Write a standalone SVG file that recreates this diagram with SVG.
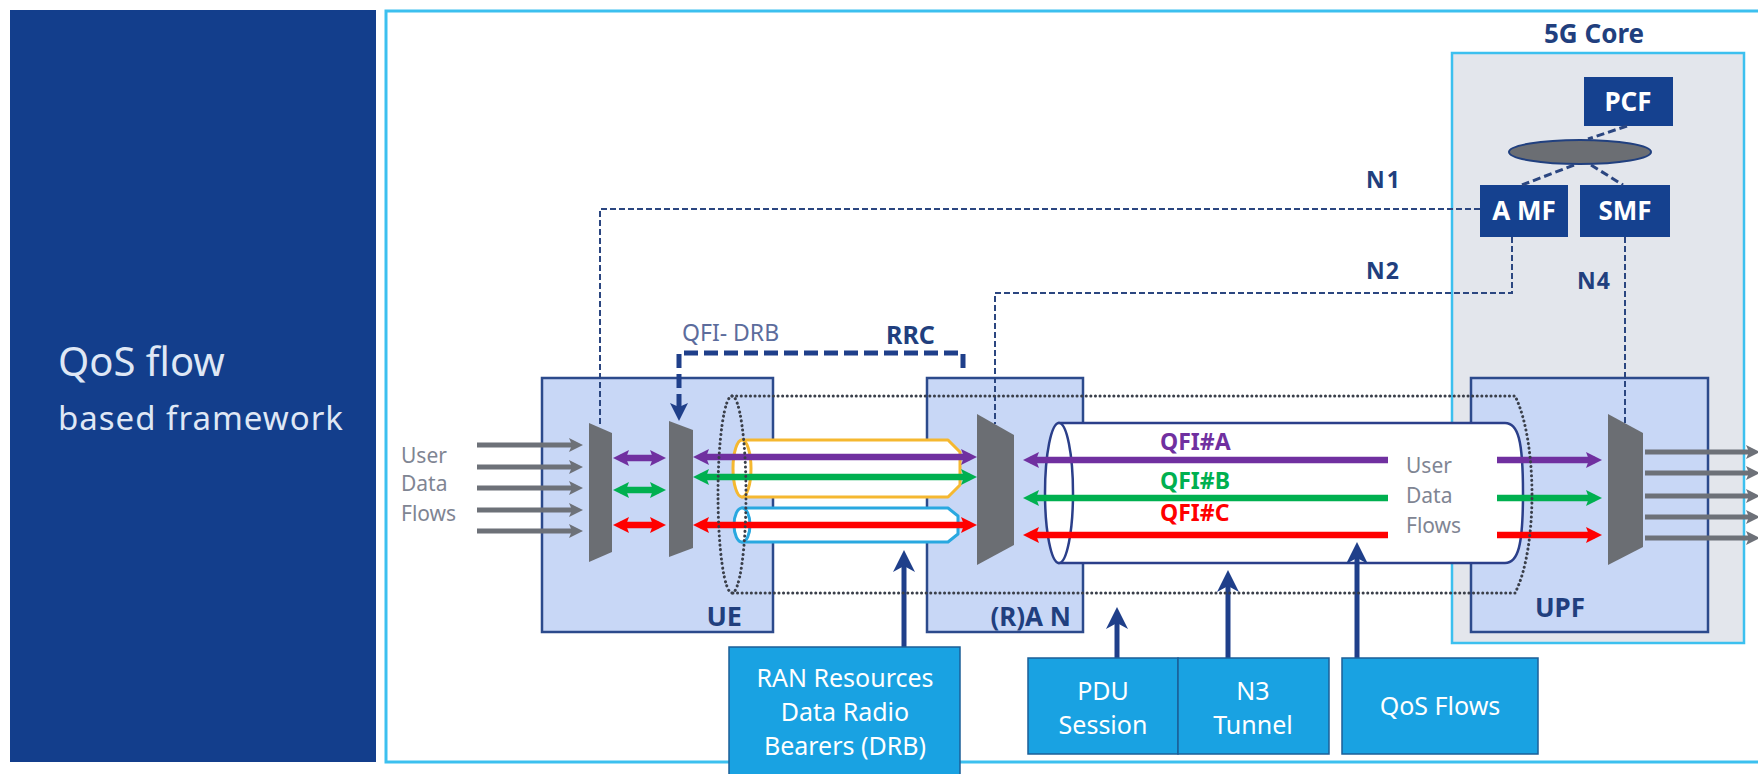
<svg xmlns="http://www.w3.org/2000/svg" width="1758" height="774" viewBox="0 0 1758 774">
<style>
  .t{font-family:"Noto Sans","Open Sans","Liberation Sans",sans-serif}
  .nodebox{fill:#c8d7f6;stroke:#2c4a8c;stroke-width:2.5}
  .cls{fill:#6b6e73}
  .nf{fill:#15418f}
  .nft{font-family:"Noto Sans","Liberation Sans",sans-serif;font-weight:bold;font-size:26px;fill:#ffffff;text-anchor:middle}
  .lbl{font-family:"Noto Sans","Liberation Sans",sans-serif;font-weight:bold;fill:#213f7e}
  .sig{fill:none;stroke:#2b4680;stroke-width:2;stroke-dasharray:6 3}
  .bb{fill:#19a2e2;stroke:#1b5f98;stroke-width:1.5}
  .bbt{font-family:"Noto Sans","Liberation Sans",sans-serif;font-size:25px;fill:#ffffff;text-anchor:middle}
  .gray{stroke:#6d7178;stroke-width:5;fill:none}
  .pur{stroke:#7030a0;stroke-width:6.5;fill:none}
  .grn{stroke:#00b050;stroke-width:6.5;fill:none}
  .red{stroke:#ff0000;stroke-width:6.5;fill:none}
  .up{stroke:#1f3f8a;stroke-width:5;fill:none}
  .gtxt{font-family:"Noto Sans","Liberation Sans",sans-serif;font-size:21px;fill:#7f8593}
</style>
<defs>
  <marker id="mp" viewBox="0 0 16 16" refX="9" refY="8" markerWidth="16" markerHeight="16" markerUnits="userSpaceOnUse" orient="auto-start-reverse"><path d="M0,0 L16,8 L0,16 L3,8z" fill="#7030a0"/></marker>
  <marker id="mg" viewBox="0 0 16 16" refX="9" refY="8" markerWidth="16" markerHeight="16" markerUnits="userSpaceOnUse" orient="auto-start-reverse"><path d="M0,0 L16,8 L0,16 L3,8z" fill="#00b050"/></marker>
  <marker id="mr" viewBox="0 0 16 16" refX="9" refY="8" markerWidth="16" markerHeight="16" markerUnits="userSpaceOnUse" orient="auto-start-reverse"><path d="M0,0 L16,8 L0,16 L3,8z" fill="#ff0000"/></marker>
  <marker id="mgy" viewBox="0 0 14 14" refX="8" refY="7" markerWidth="14" markerHeight="14" markerUnits="userSpaceOnUse" orient="auto"><path d="M0,0 L14,7 L0,14 L3,7z" fill="#6d7178"/></marker>
  <marker id="mb" viewBox="0 0 22 22" refX="12" refY="11" markerWidth="22" markerHeight="22" markerUnits="userSpaceOnUse" orient="auto"><path d="M0,0 L22,11 L0,22 L6,11z" fill="#1f3f8a"/></marker>
  <marker id="mb2" viewBox="0 0 18 18" refX="10" refY="9" markerWidth="18" markerHeight="18" markerUnits="userSpaceOnUse" orient="auto"><path d="M0,0 L18,9 L0,18 L4,9z" fill="#1f3f8a"/></marker>
</defs>

<rect width="1758" height="774" fill="#ffffff"/>

<g id="title-panel">
  <rect x="10" y="10" width="366" height="752" fill="#133e8c"/>
  <text class="t" x="58" y="376" font-size="40" fill="#dfe7f5">QoS flow</text>
  <text class="t" x="58" y="430" font-size="33" letter-spacing="1" fill="#dfe7f5">based framework</text>
</g>

<g id="frame">
  <rect x="386" y="11" width="1390" height="751" fill="none" stroke="#3cc0ef" stroke-width="3"/>
</g>

<g id="core5g">
  <rect x="1452" y="53" width="292" height="590" fill="#e3e6ec" stroke="#3cc0ef" stroke-width="2.5"/>
  <text class="lbl" x="1594" y="43" font-size="26" text-anchor="middle">5G Core</text>
</g>

<g id="ue">
  <rect class="nodebox" x="542" y="378" width="231" height="254"/>
  <text class="lbl" x="742" y="626" font-size="27" text-anchor="end">UE</text>
</g>
<g id="ran">
  <rect class="nodebox" x="927" y="378" width="156" height="254"/>
  <text class="lbl" x="1071" y="626" font-size="26" text-anchor="end">(R)A N</text>
</g>
<g id="upf">
  <rect class="nodebox" x="1471" y="378" width="237" height="254"/>
  <text class="lbl" x="1560" y="617" font-size="26" text-anchor="middle">UPF</text>
</g>

<g id="pcf">
  <rect class="nf" x="1584" y="77" width="89" height="49"/>
  <text class="nft" x="1628" y="111">PCF</text>
</g>
<g id="bus">
  <ellipse cx="1580" cy="152" rx="71" ry="12" fill="#6b6e73" stroke="#21407f" stroke-width="2"/>
</g>
<g id="amf">
  <rect class="nf" x="1480" y="185" width="88" height="52"/>
  <text class="nft" x="1524" y="220">A MF</text>
</g>
<g id="smf">
  <rect class="nf" x="1580" y="185" width="90" height="52"/>
  <text class="nft" x="1625" y="220">SMF</text>
</g>

<g id="n3-tunnel">
  <path d="M1059,423 H1505 C1518,423 1523,440 1523,493 C1523,546 1518,563 1505,563 H1059 Z" fill="#ffffff" stroke="#2b3f8a" stroke-width="2.5"/>
  <ellipse cx="1059" cy="493" rx="14" ry="70" fill="#ffffff" stroke="#2b3f8a" stroke-width="2.5"/>
</g>

<g id="drb-tubes">
  <path d="M742,440 H948 L960,452 V485 L948,497 H742 Z" fill="#ffffff" stroke="#f5b830" stroke-width="3" stroke-linejoin="round"/>
  <ellipse cx="742" cy="468.5" rx="9" ry="28.5" fill="#ffffff" stroke="#f5b830" stroke-width="3"/>
  <path d="M742,508 H948 L958,516 V534 L948,542 H742 Z" fill="#ffffff" stroke="#29a8e0" stroke-width="3" stroke-linejoin="round"/>
  <ellipse cx="742" cy="525" rx="8" ry="17" fill="#ffffff" stroke="#29a8e0" stroke-width="3"/>
</g>

<g id="classifiers">
  <polygon class="cls" points="589,423 612,433 612,552 589,562"/>
  <polygon class="cls" points="669,421 693,430 693,548 669,557"/>
  <polygon class="cls" points="977,414 1014,435 1014,545 977,565"/>
  <polygon class="cls" points="1608,414 1643,433 1643,547 1608,565"/>
</g>

<g id="connectors">
  <path class="sig" d="M1480,209 H600 V427"/>
  <path class="sig" d="M1512,237 V293 H995 V424"/>
  <path class="sig" d="M1625,237 V423"/>
  <path d="M1627,126 L1588,139 M1574,165 L1522,185 M1591,165 L1623,185" fill="none" stroke="#2b4680" stroke-width="3" stroke-dasharray="8 4"/>
  <path d="M963,368 V353 H679 V413" fill="none" stroke="#1f3f8a" stroke-width="5" stroke-dasharray="14 6" marker-end="url(#mb2)"/>

  <line class="gray" x1="477" y1="445" x2="577" y2="445" marker-end="url(#mgy)"/>
  <line class="gray" x1="477" y1="467" x2="577" y2="467" marker-end="url(#mgy)"/>
  <line class="gray" x1="477" y1="488" x2="577" y2="488" marker-end="url(#mgy)"/>
  <line class="gray" x1="477" y1="510" x2="577" y2="510" marker-end="url(#mgy)"/>
  <line class="gray" x1="477" y1="531" x2="577" y2="531" marker-end="url(#mgy)"/>

  <line class="gray" x1="1645" y1="452" x2="1754" y2="452" marker-end="url(#mgy)"/>
  <line class="gray" x1="1645" y1="473" x2="1754" y2="473" marker-end="url(#mgy)"/>
  <line class="gray" x1="1645" y1="496" x2="1754" y2="496" marker-end="url(#mgy)"/>
  <line class="gray" x1="1645" y1="517" x2="1754" y2="517" marker-end="url(#mgy)"/>
  <line class="gray" x1="1645" y1="538" x2="1754" y2="538" marker-end="url(#mgy)"/>

  <line class="pur" x1="620" y1="458" x2="659" y2="458" marker-start="url(#mp)" marker-end="url(#mp)"/>
  <line class="grn" x1="620" y1="490" x2="659" y2="490" marker-start="url(#mg)" marker-end="url(#mg)"/>
  <line class="red" x1="620" y1="525" x2="659" y2="525" marker-start="url(#mr)" marker-end="url(#mr)"/>

  <line class="pur" x1="700" y1="457" x2="970" y2="457" marker-start="url(#mp)" marker-end="url(#mp)"/>
  <line class="grn" x1="700" y1="477" x2="970" y2="477" marker-start="url(#mg)" marker-end="url(#mg)"/>
  <line class="red" x1="700" y1="525" x2="970" y2="525" marker-start="url(#mr)" marker-end="url(#mr)"/>

  <line class="pur" x1="1388" y1="460" x2="1030" y2="460" marker-end="url(#mp)"/>
  <line class="grn" x1="1388" y1="498" x2="1030" y2="498" marker-end="url(#mg)"/>
  <line class="red" x1="1388" y1="535" x2="1030" y2="535" marker-end="url(#mr)"/>
  <line class="pur" x1="1497" y1="460" x2="1595" y2="460" marker-end="url(#mp)"/>
  <line class="grn" x1="1497" y1="498" x2="1595" y2="498" marker-end="url(#mg)"/>
  <line class="red" x1="1497" y1="535" x2="1595" y2="535" marker-end="url(#mr)"/>

  <line class="up" x1="904" y1="647" x2="904" y2="560" marker-end="url(#mb)"/>
  <line class="up" x1="1117" y1="658" x2="1117" y2="617" marker-end="url(#mb)"/>
  <line class="up" x1="1228" y1="658" x2="1228" y2="580" marker-end="url(#mb)"/>
  <line class="up" x1="1357" y1="658" x2="1357" y2="552" marker-end="url(#mb)"/>
</g>

<g id="pdu-outline">
  <path d="M732,396 H1515 C1527,420 1532,460 1532,495 C1532,530 1527,570 1515,593 H732" fill="none" stroke="#3a3f4a" stroke-width="3" stroke-dasharray="0.1 4.5" stroke-linecap="round"/>
  <ellipse cx="732" cy="494.5" rx="14" ry="98.5" fill="none" stroke="#3a3f4a" stroke-width="3" stroke-dasharray="0.1 4.5" stroke-linecap="round"/>
</g>

<g id="labels">
  <text class="gtxt" x="401" y="463">User</text>
  <text class="gtxt" x="401" y="491">Data</text>
  <text class="gtxt" x="401" y="521">Flows</text>
  <text class="gtxt" x="1406" y="473">User</text>
  <text class="gtxt" x="1406" y="503">Data</text>
  <text class="gtxt" x="1406" y="533">Flows</text>
  <text class="lbl" x="1160" y="450" font-size="23" style="fill:#7030a0">QFI#A</text>
  <text class="lbl" x="1160" y="489" font-size="23" style="fill:#00b050">QFI#B</text>
  <text class="lbl" x="1160" y="521" font-size="23" style="fill:#ff0000">QFI#C</text>
  <text class="t" x="682" y="341" font-size="23" fill="#5c6c9c">QFI- DRB</text>
  <text class="lbl" x="886" y="344" font-size="25">RRC</text>
  <text class="lbl" x="1366" y="188" font-size="23" letter-spacing="2">N1</text>
  <text class="lbl" x="1366" y="279" font-size="23" letter-spacing="1">N2</text>
  <text class="lbl" x="1577" y="289" font-size="23" letter-spacing="1">N4</text>
</g>

<g id="ran-resources">
  <rect class="bb" x="729" y="647" width="231" height="140"/>
  <text class="bbt" x="845" y="687">RAN Resources</text>
  <text class="bbt" x="845" y="721">Data Radio</text>
  <text class="bbt" x="845" y="755">Bearers (DRB)</text>
</g>
<g id="pdu-session">
  <rect class="bb" x="1028" y="658" width="150" height="96"/>
  <text class="bbt" x="1103" y="700">PDU</text>
  <text class="bbt" x="1103" y="734">Session</text>
</g>
<g id="n3-box">
  <rect class="bb" x="1178" y="658" width="151" height="96"/>
  <text class="bbt" x="1253" y="700">N3</text>
  <text class="bbt" x="1253" y="734">Tunnel</text>
</g>
<g id="qos-flows">
  <rect class="bb" x="1342" y="658" width="196" height="96"/>
  <text class="bbt" x="1440" y="715">QoS Flows</text>
</g>
</svg>
